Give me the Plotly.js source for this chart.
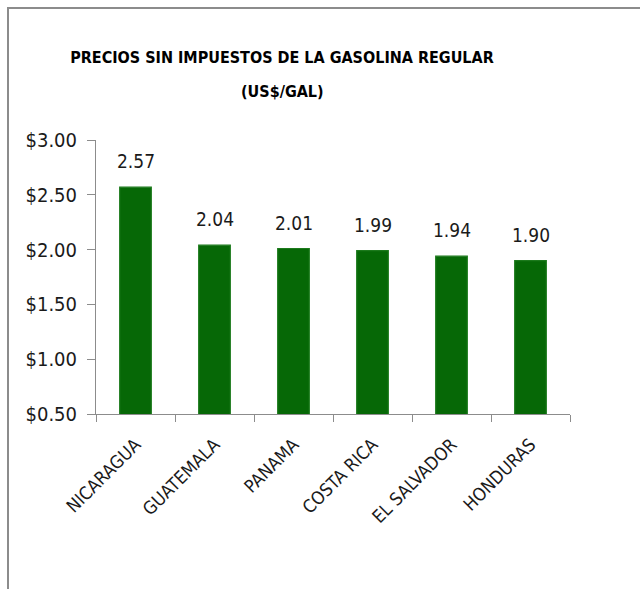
<!DOCTYPE html>
<html>
<head>
<meta charset="utf-8">
<script src="https://cdn.plot.ly/plotly-3.0.1.min.js"></script>
<style>
html,body{margin:0;padding:0;background:#fff;overflow:hidden;}
#frame{position:absolute;left:7px;top:7px;width:700px;height:700px;border:2px solid #8c8c8c;box-sizing:border-box;}
#chart{position:absolute;left:0;top:0;width:640px;height:589px;}
</style>
</head>
<body>
<div id="frame"></div>
<div id="chart"></div>
<script>
const countries = ["NICARAGUA", "GUATEMALA", "PANAMA", "COSTA RICA", "EL SALVADOR", "HONDURAS"];
const prices = [2.57, 2.04, 2.01, 1.99, 1.94, 1.90];
const yTicks = [0.5, 1.0, 1.5, 2.0, 2.5, 3.0];
const yTickLabels = ["$0.50", "$1.00", "$1.50", "$2.00", "$2.50", "$3.00"];
const titleLine1 = "PRECIOS SIN IMPUESTOS DE LA GASOLINA REGULAR";
const titleLine2 = "(US$/GAL)";

const FONT = "'DejaVu Sans Condensed', 'Liberation Sans Narrow', sans-serif";

const trace = {
  type: "bar",
  x: countries,
  y: prices,
  width: 0.40,
  marker: {color: "#066806", line: {color: "#1c7a1c", width: 1.2}},
  hoverinfo: "skip"
};

const annotations = countries.map((c, i) => ({
  x: c, y: prices[i], xref: "x", yref: "y",
  text: prices[i].toFixed(2),
  showarrow: false, yanchor: "bottom", yshift: 13,
  font: {family: FONT, size: 19, color: "#1a1a1a"}
}));

annotations.push({
  text: titleLine2,
  xref: "paper", yref: "paper",
  x: (282 - 96) / 474, y: (414 - 91) / 274,
  xanchor: "center", yanchor: "middle",
  showarrow: false,
  font: {family: FONT, size: 16, color: "#000", weight: "bold"}
});

const layout = {
  width: 640, height: 589,
  paper_bgcolor: "rgba(0,0,0,0)",
  plot_bgcolor: "rgba(0,0,0,0)",
  margin: {l: 96, r: 70, t: 140, b: 175},
  showlegend: false,
  title: {
    text: titleLine1,
    x: 282/640, xref: "container", xanchor: "center",
    y: 1 - 57/589, yref: "container", yanchor: "middle",
    font: {family: FONT, size: 16, color: "#000", weight: "bold"}
  },
  xaxis: {
    type: "category",
    showgrid: false,
    showline: true, linecolor: "#8c8c8c", linewidth: 1,
    ticks: "outside", tickson: "boundaries", ticklen: 7, tickcolor: "#8c8c8c",
    tickangle: -45,
    ticklabelstandoff: 12,
    tickfont: {family: FONT, size: 18, color: "#1a1a1a"},
    range: [-0.5, 5.5]
  },
  yaxis: {
    range: [0.5, 3.0],
    tickvals: yTicks, ticktext: yTickLabels,
    showgrid: false, zeroline: false,
    showline: true, linecolor: "#8c8c8c", linewidth: 1,
    ticks: "outside", ticklen: 8, tickcolor: "#8c8c8c",
    ticklabelstandoff: 6,
    tickfont: {family: FONT, size: 20, color: "#1a1a1a"}
  },
  annotations: annotations
};

Plotly.newPlot("chart", [trace], layout, {displayModeBar: false, staticPlot: true});
</script>
</body>
</html>
